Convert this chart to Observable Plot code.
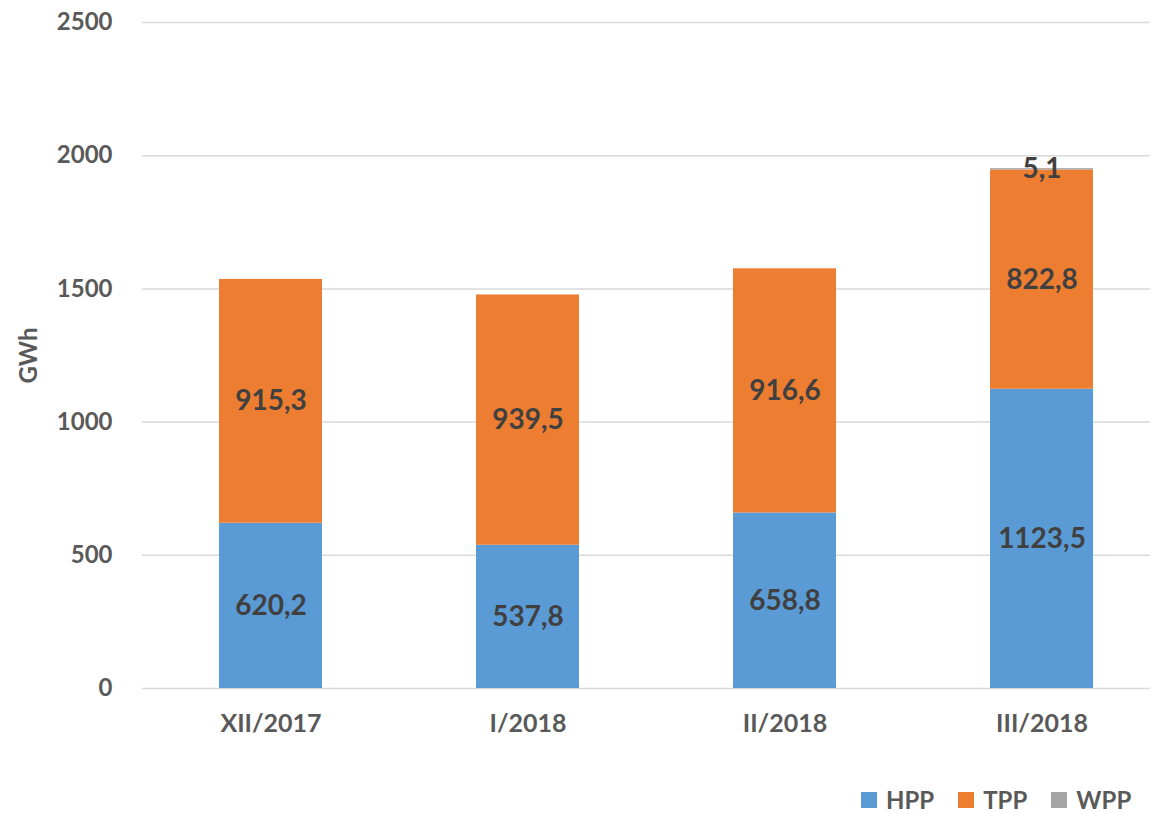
<!DOCTYPE html>
<html>
<head>
<meta charset="utf-8">
<script src="https://cdn.jsdelivr.net/npm/d3@7"></script>
<script src="https://cdn.jsdelivr.net/npm/@observablehq/plot@0.6"></script>
<style>
  body { margin: 0; background: #fff; font-family: Lato, "Open Sans", sans-serif; }
  #legend { position: absolute; top: 785px; left: 861px; height: 30px; display: flex; align-items: center; font-weight: bold; font-size: 24px; line-height: 30px; color: #595959; }
  #legend .item { display: flex; align-items: center; margin-right: 24px; }
  #legend .sw { width: 16px; height: 16px; margin-right: 9px; }
</style>
</head>
<body>
<div id="chart"></div>
<div id="legend"></div>
<script>
const months = ["XII/2017", "I/2018", "II/2018", "III/2018"];
const series = ["HPP", "TPP", "WPP"];
const hpp = [620.2, 537.8, 658.8, 1123.5];
const tpp = [915.3, 939.5, 916.6, 822.8];
const wpp = [0, 0, 0, 5.1];
const colors = ["#5B9BD5", "#ED7D31", "#A5A5A5"];
const yTicks = [0, 500, 1000, 1500, 2000, 2500];

const values = [hpp, tpp, wpp];
const data = [];
series.forEach((s, si) => months.forEach((m, mi) => data.push({month: m, type: s, value: values[si][mi]})));

const fmt = v => d3.format(".1f")(v).replace(".", ",");

const plot = Plot.plot({
  width: 1154,
  height: 760,
  marginLeft: 142,
  marginRight: 4,
  marginTop: 22,
  marginBottom: 72,
  style: {fontFamily: "Lato, 'Open Sans', sans-serif", background: "#fff"},
  x: {domain: months, range: [142, 1170], paddingInner: 0.6, paddingOuter: 0.3, label: null},
  y: {domain: [0, 2500], label: null},
  color: {domain: series, range: colors},
  marks: [
    Plot.ruleY(yTicks, {stroke: "#D9D9D9", strokeWidth: 1.5}),
    Plot.barY(data, Plot.stackY({x: "month", y: "value", z: "type", fill: "type"})),
    Plot.text(data.filter(d => d.value > 0), Plot.stackY({x: "month", y: "value", z: "type", text: d => fmt(d.value), fill: "#404040", fontSize: 28, fontWeight: "bold"})),
    Plot.axisY(yTicks, {tickSize: 0, tickPadding: 30, tickFormat: d => String(d), fontSize: 24, fontWeight: "bold", color: "#595959", label: null}),
    Plot.axisX({tickSize: 0, tickPadding: 26, fontSize: 25, fontWeight: "bold", color: "#595959", label: null}),
    Plot.text(["GWh"], {frameAnchor: "left", textAnchor: "middle", dx: -113, rotate: -90, fontSize: 24, fontWeight: "bold", fill: "#595959"})
  ]
});
document.getElementById("chart").appendChild(plot);

const legend = document.getElementById("legend");
series.forEach((s, i) => {
  const item = document.createElement("div");
  item.className = "item";
  item.innerHTML = `<span class="sw" style="background:${colors[i]}"></span><span>${s}</span>`;
  legend.appendChild(item);
});
</script>
</body>
</html>
